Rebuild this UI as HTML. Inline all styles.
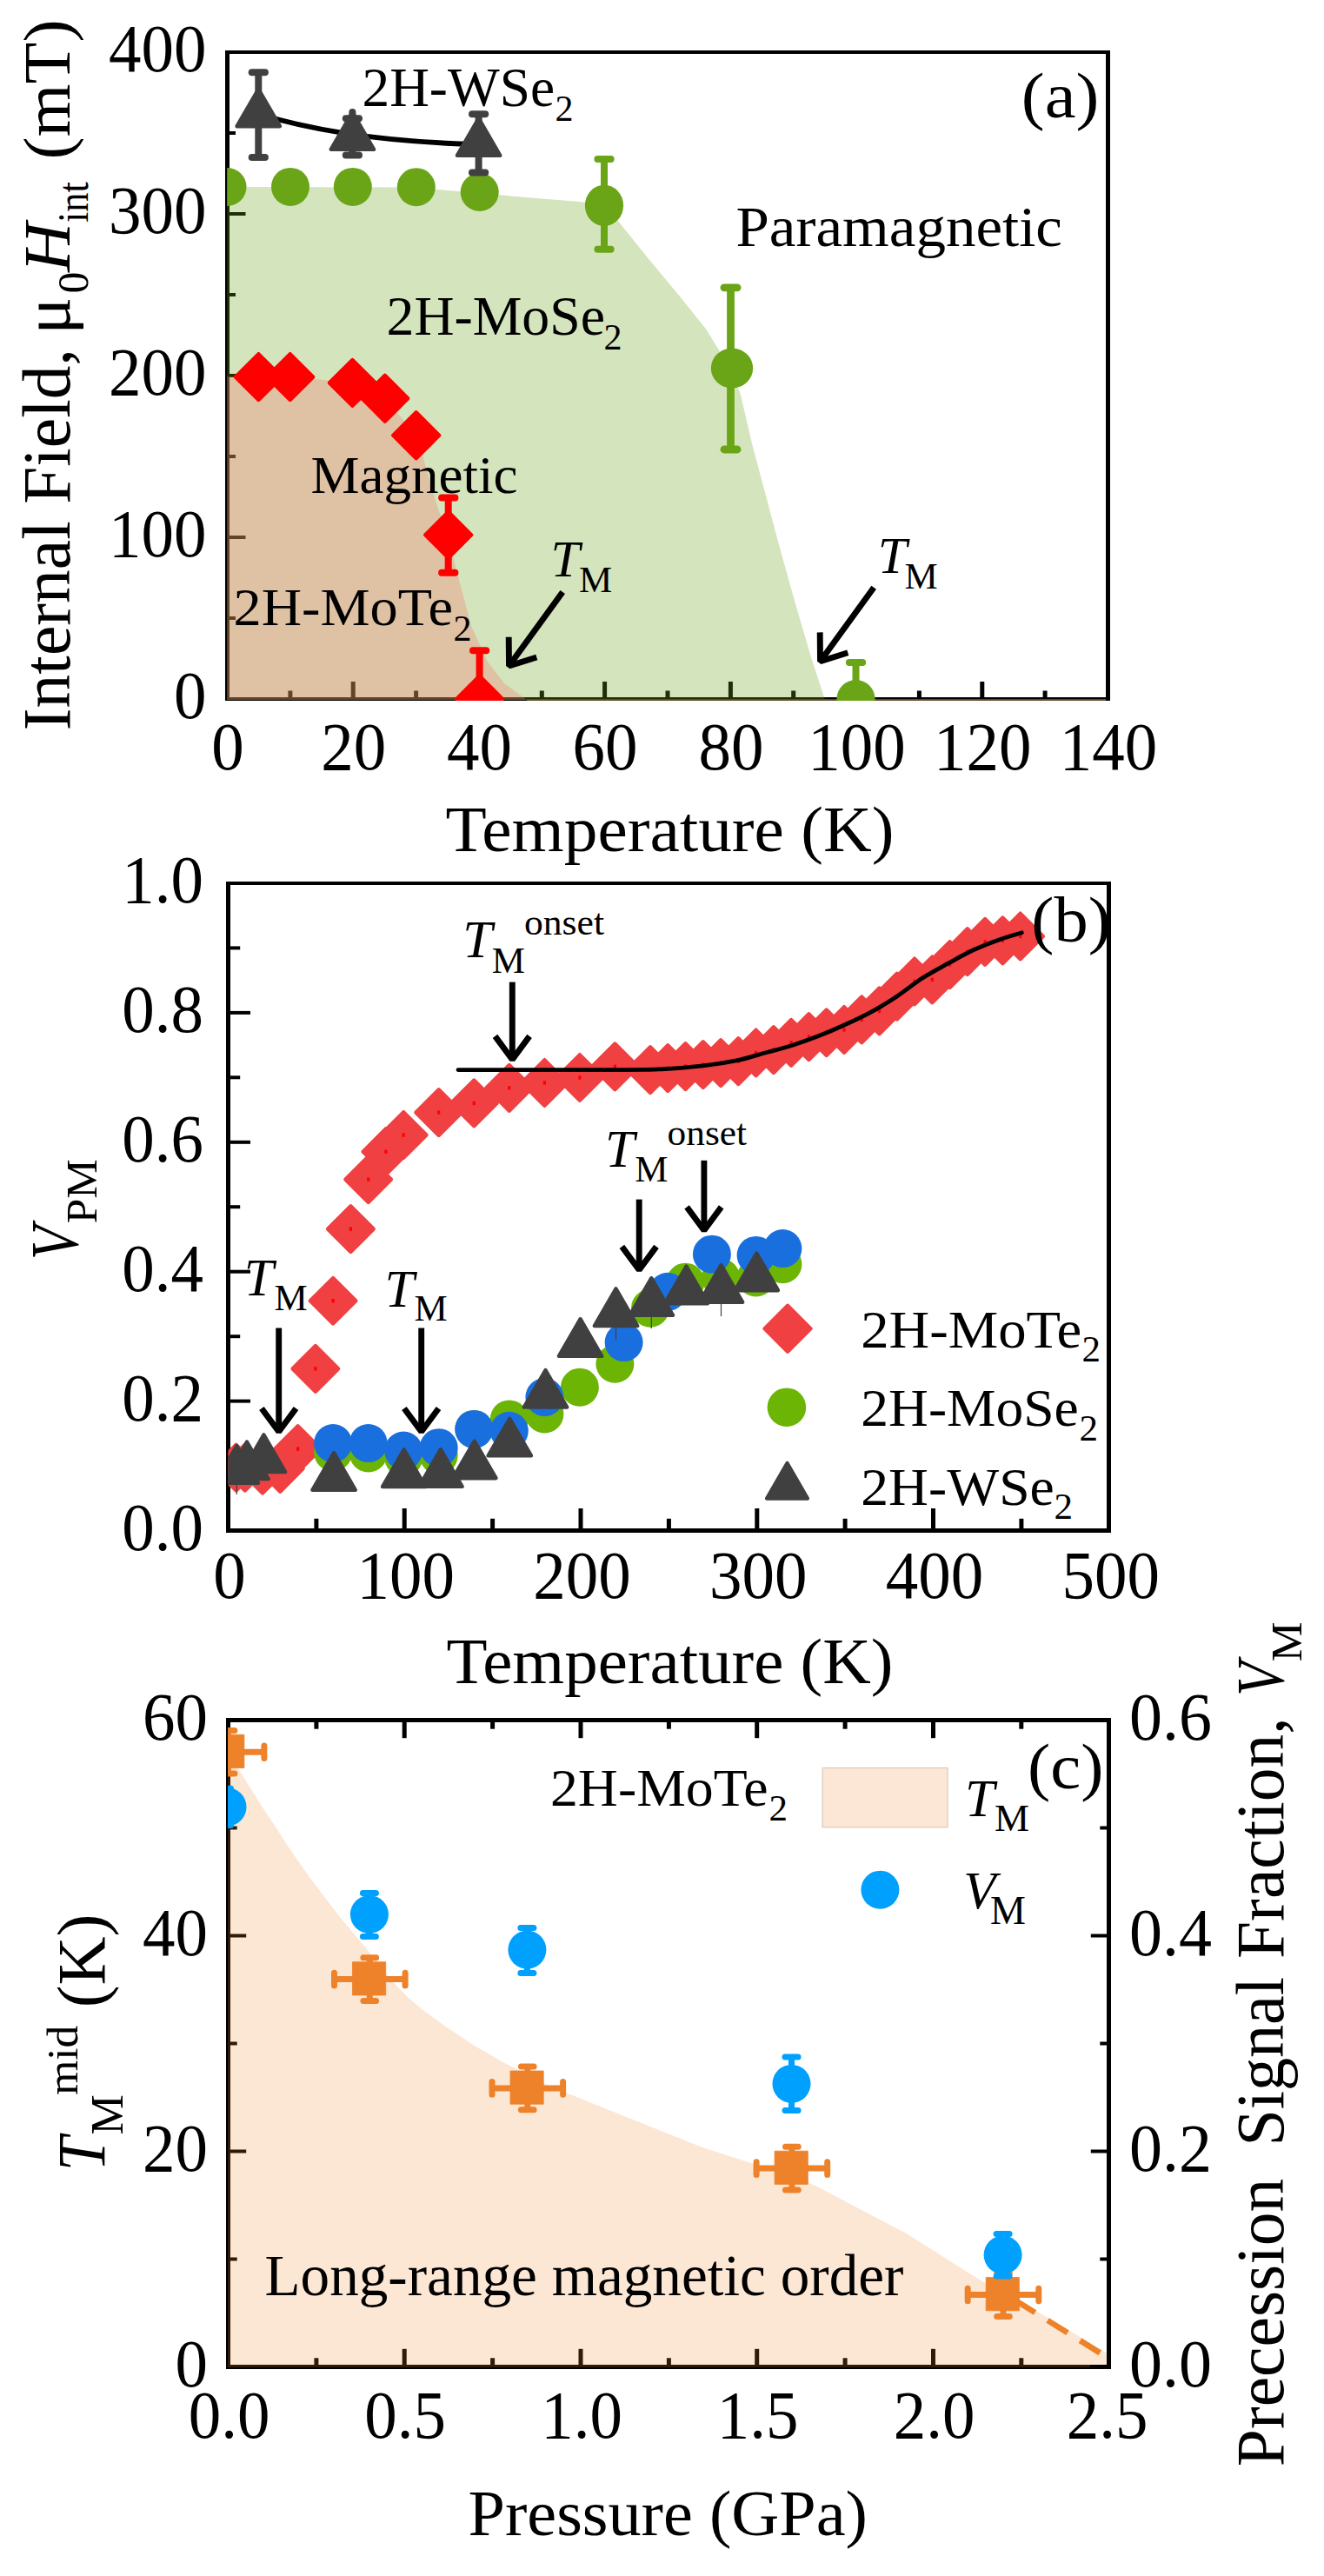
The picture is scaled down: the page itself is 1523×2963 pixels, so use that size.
<!DOCTYPE html>
<html><head><meta charset="utf-8"><title>Figure</title>
<style>
html,body{margin:0;padding:0;background:#fff;}
svg{display:block;}
text{font-family:'Liberation Serif','Times New Roman',serif;fill:#000;}
</style></head>
<body>
<svg width="1523" height="2963" viewBox="0 0 1523 2963">
<rect width="1523" height="2963" fill="#fff"/>
<g id="panel-a">
<line x1="261.5" y1="58.0" x2="261.5" y2="806.0" stroke="#000" stroke-width="5" stroke-linecap="butt" />
<line x1="1274.5" y1="58.0" x2="1274.5" y2="806.0" stroke="#000" stroke-width="5" stroke-linecap="butt" />
<line x1="259.0" y1="60.0" x2="1277.0" y2="60.0" stroke="#000" stroke-width="4" stroke-linecap="butt" />
<line x1="259.0" y1="804.0" x2="1277.0" y2="804.0" stroke="#000" stroke-width="4" stroke-linecap="butt" />
<line x1="333.9" y1="804.0" x2="333.9" y2="794.5" stroke="#000" stroke-width="5" stroke-linecap="butt" />
<line x1="406.2" y1="804.0" x2="406.2" y2="784.0" stroke="#000" stroke-width="5" stroke-linecap="butt" />
<line x1="478.6" y1="804.0" x2="478.6" y2="794.5" stroke="#000" stroke-width="5" stroke-linecap="butt" />
<line x1="550.9" y1="804.0" x2="550.9" y2="784.0" stroke="#000" stroke-width="5" stroke-linecap="butt" />
<line x1="623.3" y1="804.0" x2="623.3" y2="794.5" stroke="#000" stroke-width="5" stroke-linecap="butt" />
<line x1="695.6" y1="804.0" x2="695.6" y2="784.0" stroke="#000" stroke-width="5" stroke-linecap="butt" />
<line x1="768.0" y1="804.0" x2="768.0" y2="794.5" stroke="#000" stroke-width="5" stroke-linecap="butt" />
<line x1="840.4" y1="804.0" x2="840.4" y2="784.0" stroke="#000" stroke-width="5" stroke-linecap="butt" />
<line x1="912.7" y1="804.0" x2="912.7" y2="794.5" stroke="#000" stroke-width="5" stroke-linecap="butt" />
<line x1="985.1" y1="804.0" x2="985.1" y2="784.0" stroke="#000" stroke-width="5" stroke-linecap="butt" />
<line x1="1057.4" y1="804.0" x2="1057.4" y2="794.5" stroke="#000" stroke-width="5" stroke-linecap="butt" />
<line x1="1129.8" y1="804.0" x2="1129.8" y2="784.0" stroke="#000" stroke-width="5" stroke-linecap="butt" />
<line x1="1202.1" y1="804.0" x2="1202.1" y2="794.5" stroke="#000" stroke-width="5" stroke-linecap="butt" />
<line x1="261.5" y1="711.0" x2="271.0" y2="711.0" stroke="#000" stroke-width="4" stroke-linecap="butt" />
<line x1="261.5" y1="618.0" x2="282.5" y2="618.0" stroke="#000" stroke-width="4" stroke-linecap="butt" />
<line x1="261.5" y1="525.0" x2="271.0" y2="525.0" stroke="#000" stroke-width="4" stroke-linecap="butt" />
<line x1="261.5" y1="432.0" x2="282.5" y2="432.0" stroke="#000" stroke-width="4" stroke-linecap="butt" />
<line x1="261.5" y1="339.0" x2="271.0" y2="339.0" stroke="#000" stroke-width="4" stroke-linecap="butt" />
<line x1="261.5" y1="246.0" x2="282.5" y2="246.0" stroke="#000" stroke-width="4" stroke-linecap="butt" />
<line x1="261.5" y1="153.0" x2="271.0" y2="153.0" stroke="#000" stroke-width="4" stroke-linecap="butt" />
<clipPath id="clipA"><rect x="259.0" y="60.0" width="1015.5" height="746.0"/></clipPath>
<g clip-path="url(#clipA)">
<polygon points="261.2,215.0 478.0,215.5 502.7,218.0 551.5,222.0 593.3,225.9 668.8,232.3 695.0,236.0 714.1,258.0 744.4,295.7 782.1,341.1 812.3,378.8 833.1,412.8 841.5,424.0 852.0,454.4 865.2,511.0 880.3,567.6 895.4,624.3 914.3,692.3 933.2,756.5 949.0,805.0 261.2,805.0" fill="#6AA31A" fill-opacity="0.29" />
<polygon points="261.2,433.0 368.0,436.5 405.4,440.4 442.8,458.2 478.7,500.8 487.0,527.0 501.0,576.4 514.5,615.3 527.0,663.0 542.0,720.0 561.0,761.4 580.0,786.0 606.0,805.0 261.2,805.0" fill="#FA756A" fill-opacity="0.31" />
<rect x="606" y="804" width="666.0" height="2" fill="#6A4722"/>
</g>
<clipPath id="clipA2"><rect x="261.2" y="60.0" width="1015.5" height="746.0"/></clipPath>
<g clip-path="url(#clipA2)">
<path d="M297.3,131 Q400,162.5 550.6,166" stroke="#000" stroke-width="6" fill="none" />
<line x1="695.0" y1="183.0" x2="695.0" y2="286.8" stroke="#6AA518" stroke-width="8" stroke-linecap="butt" />
<line x1="687.4" y1="183.0" x2="702.6" y2="183.0" stroke="#6AA518" stroke-width="8" stroke-linecap="round" />
<line x1="687.4" y1="286.8" x2="702.6" y2="286.8" stroke="#6AA518" stroke-width="8" stroke-linecap="round" />
<line x1="840.5" y1="330.8" x2="840.5" y2="517.0" stroke="#6AA518" stroke-width="8.8" stroke-linecap="butt" />
<line x1="832.9" y1="330.8" x2="848.1" y2="330.8" stroke="#6AA518" stroke-width="8.8" stroke-linecap="round" />
<line x1="832.9" y1="517.0" x2="848.1" y2="517.0" stroke="#6AA518" stroke-width="8.8" stroke-linecap="round" />
<line x1="984.5" y1="762.0" x2="984.5" y2="804.0" stroke="#6AA518" stroke-width="8" stroke-linecap="butt" />
<line x1="976.9" y1="762.0" x2="992.1" y2="762.0" stroke="#6AA518" stroke-width="8" stroke-linecap="round" />
<line x1="976.9" y1="804.0" x2="992.1" y2="804.0" stroke="#6AA518" stroke-width="8" stroke-linecap="round" />
<circle cx="261.5" cy="215.0" r="22" fill="#6AA518"/>
<circle cx="334.0" cy="214.9" r="22" fill="#6AA518"/>
<circle cx="405.8" cy="214.9" r="22" fill="#6AA518"/>
<circle cx="478.8" cy="215.2" r="22" fill="#6AA518"/>
<circle cx="551.7" cy="221.0" r="22" fill="#6AA518"/>
<circle cx="984.5" cy="804.0" r="22" fill="#6AA518"/>
<ellipse cx="695" cy="236.4" rx="22.1" ry="23.6" fill="#6AA518"/>
<ellipse cx="842" cy="423.5" rx="24.2" ry="23" fill="#6AA518"/>
<line x1="515.7" y1="572.6" x2="515.7" y2="658.7" stroke="#FF0000" stroke-width="8" stroke-linecap="butt" />
<line x1="508.1" y1="572.6" x2="523.4" y2="572.6" stroke="#FF0000" stroke-width="8" stroke-linecap="round" />
<line x1="508.1" y1="658.7" x2="523.4" y2="658.7" stroke="#FF0000" stroke-width="8" stroke-linecap="round" />
<line x1="551.6" y1="748.2" x2="551.6" y2="804.0" stroke="#FF0000" stroke-width="8" stroke-linecap="butt" />
<line x1="544.0" y1="748.2" x2="559.2" y2="748.2" stroke="#FF0000" stroke-width="8" stroke-linecap="round" />
<line x1="544.0" y1="804.0" x2="559.2" y2="804.0" stroke="#FF0000" stroke-width="8" stroke-linecap="round" />
<polygon points="297.4,407.2 323.8,433.6 297.4,460.0 271.0,433.6" fill="#FF0000" stroke="#FF0000" stroke-width="4.4" stroke-linejoin="round"/>
<polygon points="333.7,407.2 360.1,433.6 333.7,460.0 307.3,433.6" fill="#FF0000" stroke="#FF0000" stroke-width="4.4" stroke-linejoin="round"/>
<polygon points="405.4,414.0 431.8,440.4 405.4,466.8 379.0,440.4" fill="#FF0000" stroke="#FF0000" stroke-width="4.4" stroke-linejoin="round"/>
<polygon points="442.8,431.8 469.2,458.2 442.8,484.6 416.4,458.2" fill="#FF0000" stroke="#FF0000" stroke-width="4.4" stroke-linejoin="round"/>
<polygon points="478.7,474.4 505.1,500.8 478.7,527.2 452.3,500.8" fill="#FF0000" stroke="#FF0000" stroke-width="4.4" stroke-linejoin="round"/>
<polygon points="515.7,588.9 542.1,615.3 515.7,641.7 489.3,615.3" fill="#FF0000" stroke="#FF0000" stroke-width="4.4" stroke-linejoin="round"/>
<polygon points="551.6,777.6 578.0,804.0 551.6,830.4 525.2,804.0" fill="#FF0000" stroke="#FF0000" stroke-width="4.4" stroke-linejoin="round"/>
<line x1="297.3" y1="83.2" x2="297.3" y2="181.0" stroke="#404040" stroke-width="8" stroke-linecap="butt" />
<line x1="289.7" y1="83.2" x2="304.9" y2="83.2" stroke="#404040" stroke-width="8" stroke-linecap="round" />
<line x1="289.7" y1="181.0" x2="304.9" y2="181.0" stroke="#404040" stroke-width="8" stroke-linecap="round" />
<line x1="405.4" y1="136.2" x2="405.4" y2="178.5" stroke="#404040" stroke-width="8" stroke-linecap="butt" />
<line x1="397.8" y1="136.2" x2="413.0" y2="136.2" stroke="#404040" stroke-width="8" stroke-linecap="round" />
<line x1="397.8" y1="178.5" x2="413.0" y2="178.5" stroke="#404040" stroke-width="8" stroke-linecap="round" />
<line x1="550.6" y1="131.2" x2="550.6" y2="198.4" stroke="#404040" stroke-width="8" stroke-linecap="butt" />
<line x1="543.0" y1="131.2" x2="558.2" y2="131.2" stroke="#404040" stroke-width="8" stroke-linecap="round" />
<line x1="543.0" y1="198.4" x2="558.2" y2="198.4" stroke="#404040" stroke-width="8" stroke-linecap="round" />
<line x1="405.4" y1="129.0" x2="405.4" y2="140.0" stroke="#404040" stroke-width="8" stroke-linecap="round" />
<polygon points="297.3,102.6 322.0,145.2 272.6,145.2" fill="#404040" stroke="#404040" stroke-width="4.4" stroke-linejoin="round"/>
<polygon points="405.4,129.2 430.1,171.8 380.7,171.8" fill="#404040" stroke="#404040" stroke-width="4.4" stroke-linejoin="round"/>
<polygon points="550.6,136.2 575.3,178.8 525.9,178.8" fill="#404040" stroke="#404040" stroke-width="4.4" stroke-linejoin="round"/>
</g>
<path d="M647.2,681.0 L585.5,766.0" stroke="#000" stroke-width="6.9" fill="none"/>
<path d="M617.3,756.0 L585.5,766.0 L585.2,732.7" stroke="#000" stroke-width="6.9" fill="none" stroke-linejoin="bevel"/>
<path d="M1005.2,675.7 L943.5,760.7" stroke="#000" stroke-width="6.9" fill="none"/>
<path d="M975.3,750.7 L943.5,760.7 L943.2,727.4" stroke="#000" stroke-width="6.9" fill="none" stroke-linejoin="bevel"/>
<text transform="translate(237.5,825.8) scale(1,1.035)" font-size="75" text-anchor="end">0</text>
<text transform="translate(237.5,639.8) scale(1,1.035)" font-size="75" text-anchor="end">100</text>
<text transform="translate(237.5,453.8) scale(1,1.035)" font-size="75" text-anchor="end">200</text>
<text transform="translate(237.5,267.8) scale(1,1.035)" font-size="75" text-anchor="end">300</text>
<text transform="translate(237.5,81.8) scale(1,1.035)" font-size="75" text-anchor="end">400</text>
<text transform="translate(262.0,885.4) scale(1,1.035)" font-size="75" text-anchor="middle">0</text>
<text transform="translate(406.7,885.4) scale(1,1.035)" font-size="75" text-anchor="middle">20</text>
<text transform="translate(551.4,885.4) scale(1,1.035)" font-size="75" text-anchor="middle">40</text>
<text transform="translate(696.1,885.4) scale(1,1.035)" font-size="75" text-anchor="middle">60</text>
<text transform="translate(840.9,885.4) scale(1,1.035)" font-size="75" text-anchor="middle">80</text>
<text transform="translate(985.6,885.4) scale(1,1.035)" font-size="75" text-anchor="middle">100</text>
<text transform="translate(1130.3,885.4) scale(1,1.035)" font-size="75" text-anchor="middle">120</text>
<text transform="translate(1275.0,885.4) scale(1,1.035)" font-size="75" text-anchor="middle">140</text>
<text x="512.5" y="978.7" font-size="75" textLength="516.0" lengthAdjust="spacingAndGlyphs">Temperature (K)</text>
<text transform="translate(80.4,840.2) rotate(-90)" font-size="77.5">Internal Field,</text>
<text transform="translate(80.4,384.7) rotate(-90)" font-size="77" textLength="43.0" lengthAdjust="spacingAndGlyphs">μ</text>
<text transform="translate(101.0,337.6) rotate(-90)" font-size="50">0</text>
<text transform="translate(80.4,313.0) rotate(-90)" font-size="77" font-style="italic" textLength="57.0" lengthAdjust="spacingAndGlyphs">H</text>
<text transform="translate(101.0,256.0) rotate(-90)" font-size="50" textLength="47.0" lengthAdjust="spacingAndGlyphs">int</text>
<text transform="translate(80.4,183.5) rotate(-90)" font-size="77" textLength="161.0" lengthAdjust="spacingAndGlyphs">(mT)</text>
<text x="416.5" y="122.3" font-size="62.5" textLength="221.5" lengthAdjust="spacingAndGlyphs">2H-WSe</text>
<text x="638.5" y="139.3" font-size="42">2</text>
<text x="1174.8" y="134.7" font-size="75" textLength="89.5" lengthAdjust="spacingAndGlyphs">(a)</text>
<text x="846.5" y="282.6" font-size="65" textLength="375.5" lengthAdjust="spacingAndGlyphs">Paramagnetic</text>
<text x="444.5" y="385.3" font-size="64" textLength="251.5" lengthAdjust="spacingAndGlyphs">2H-MoSe</text>
<text x="694.5" y="402.0" font-size="42">2</text>
<text x="357.5" y="567.4" font-size="62" textLength="238.0" lengthAdjust="spacingAndGlyphs">Magnetic</text>
<text x="268.5" y="718.9" font-size="62" textLength="252.5" lengthAdjust="spacingAndGlyphs">2H-MoTe</text>
<text x="521.5" y="737.1" font-size="42">2</text>
<text x="633.5" y="663.2" font-size="60" font-style="italic">T</text>
<text x="666.0" y="681.4" font-size="43">M</text>
<text x="1009.8" y="658.6" font-size="60" font-style="italic">T</text>
<text x="1040.5" y="676.8" font-size="43">M</text>
</g>
<g id="panel-b">
<line x1="262.5" y1="1014.0" x2="262.5" y2="1763.0" stroke="#000" stroke-width="5" stroke-linecap="butt" />
<line x1="1275.5" y1="1014.0" x2="1275.5" y2="1763.0" stroke="#000" stroke-width="5" stroke-linecap="butt" />
<line x1="260.0" y1="1016.0" x2="1278.0" y2="1016.0" stroke="#000" stroke-width="4" stroke-linecap="butt" />
<line x1="260.0" y1="1760.5" x2="1278.0" y2="1760.5" stroke="#000" stroke-width="5" stroke-linecap="butt" />
<line x1="363.9" y1="1760.5" x2="363.9" y2="1746.8" stroke="#000" stroke-width="5" stroke-linecap="butt" />
<line x1="465.2" y1="1760.5" x2="465.2" y2="1735.0" stroke="#000" stroke-width="5" stroke-linecap="butt" />
<line x1="566.6" y1="1760.5" x2="566.6" y2="1746.8" stroke="#000" stroke-width="5" stroke-linecap="butt" />
<line x1="668.0" y1="1760.5" x2="668.0" y2="1735.0" stroke="#000" stroke-width="5" stroke-linecap="butt" />
<line x1="769.4" y1="1760.5" x2="769.4" y2="1746.8" stroke="#000" stroke-width="5" stroke-linecap="butt" />
<line x1="870.8" y1="1760.5" x2="870.8" y2="1735.0" stroke="#000" stroke-width="5" stroke-linecap="butt" />
<line x1="972.1" y1="1760.5" x2="972.1" y2="1746.8" stroke="#000" stroke-width="5" stroke-linecap="butt" />
<line x1="1073.5" y1="1760.5" x2="1073.5" y2="1735.0" stroke="#000" stroke-width="5" stroke-linecap="butt" />
<line x1="1174.9" y1="1760.5" x2="1174.9" y2="1746.8" stroke="#000" stroke-width="5" stroke-linecap="butt" />
<line x1="262.5" y1="1686.0" x2="276.2" y2="1686.0" stroke="#000" stroke-width="4" stroke-linecap="butt" />
<line x1="262.5" y1="1611.6" x2="288.0" y2="1611.6" stroke="#000" stroke-width="4" stroke-linecap="butt" />
<line x1="262.5" y1="1537.2" x2="276.2" y2="1537.2" stroke="#000" stroke-width="4" stroke-linecap="butt" />
<line x1="262.5" y1="1462.7" x2="288.0" y2="1462.7" stroke="#000" stroke-width="4" stroke-linecap="butt" />
<line x1="262.5" y1="1388.2" x2="276.2" y2="1388.2" stroke="#000" stroke-width="4" stroke-linecap="butt" />
<line x1="262.5" y1="1313.8" x2="288.0" y2="1313.8" stroke="#000" stroke-width="4" stroke-linecap="butt" />
<line x1="262.5" y1="1239.3" x2="276.2" y2="1239.3" stroke="#000" stroke-width="4" stroke-linecap="butt" />
<line x1="262.5" y1="1164.9" x2="288.0" y2="1164.9" stroke="#000" stroke-width="4" stroke-linecap="butt" />
<line x1="262.5" y1="1090.4" x2="276.2" y2="1090.4" stroke="#000" stroke-width="4" stroke-linecap="butt" />
<clipPath id="clipB"><rect x="262.5" y="1016.0" width="1053.0" height="744.5"/></clipPath>
<g clip-path="url(#clipB)">
<polygon points="271.6,1661.9 297.9,1688.2 271.6,1714.5 245.3,1688.2" fill="#F04042" stroke="#F04042" stroke-width="4.4" stroke-linejoin="round"/>
<polygon points="281.8,1661.9 308.1,1688.2 281.8,1714.5 255.5,1688.2" fill="#F04042" stroke="#F04042" stroke-width="4.4" stroke-linejoin="round"/>
<polygon points="302.0,1664.9 328.3,1691.2 302.0,1717.5 275.8,1691.2" fill="#F04042" stroke="#F04042" stroke-width="4.4" stroke-linejoin="round"/>
<polygon points="322.3,1663.0 348.6,1689.3 322.3,1715.6 296.0,1689.3" fill="#F04042" stroke="#F04042" stroke-width="4.4" stroke-linejoin="round"/>
<polygon points="342.6,1640.4 368.9,1666.6 342.6,1692.9 316.3,1666.6" fill="#F04042" stroke="#F04042" stroke-width="4.4" stroke-linejoin="round"/>
<polygon points="362.9,1548.1 389.1,1574.4 362.9,1600.7 336.6,1574.4" fill="#F04042" stroke="#F04042" stroke-width="4.4" stroke-linejoin="round"/>
<polygon points="383.1,1470.0 409.4,1496.2 383.1,1522.5 356.8,1496.2" fill="#F04042" stroke="#F04042" stroke-width="4.4" stroke-linejoin="round"/>
<polygon points="403.4,1387.4 429.7,1413.6 403.4,1439.9 377.1,1413.6" fill="#F04042" stroke="#F04042" stroke-width="4.4" stroke-linejoin="round"/>
<polygon points="423.7,1330.3 449.9,1356.6 423.7,1382.9 397.4,1356.6" fill="#F04042" stroke="#F04042" stroke-width="4.4" stroke-linejoin="round"/>
<polygon points="443.9,1298.4 470.2,1324.7 443.9,1351.0 417.6,1324.7" fill="#F04042" stroke="#F04042" stroke-width="4.4" stroke-linejoin="round"/>
<polygon points="464.2,1279.2 490.5,1305.5 464.2,1331.8 437.9,1305.5" fill="#F04042" stroke="#F04042" stroke-width="4.4" stroke-linejoin="round"/>
<polygon points="504.7,1253.3 531.0,1279.6 504.7,1305.9 478.5,1279.6" fill="#F04042" stroke="#F04042" stroke-width="4.4" stroke-linejoin="round"/>
<polygon points="545.3,1242.6 571.6,1268.9 545.3,1295.2 519.0,1268.9" fill="#F04042" stroke="#F04042" stroke-width="4.4" stroke-linejoin="round"/>
<polygon points="585.8,1225.0 612.1,1251.3 585.8,1277.6 559.5,1251.3" fill="#F04042" stroke="#F04042" stroke-width="4.4" stroke-linejoin="round"/>
<polygon points="626.4,1219.2 652.6,1245.5 626.4,1271.8 600.1,1245.5" fill="#F04042" stroke="#F04042" stroke-width="4.4" stroke-linejoin="round"/>
<polygon points="666.9,1213.2 693.2,1239.5 666.9,1265.8 640.6,1239.5" fill="#F04042" stroke="#F04042" stroke-width="4.4" stroke-linejoin="round"/>
<polygon points="707.4,1200.6 733.7,1226.9 707.4,1253.2 681.2,1226.9" fill="#F04042" stroke="#F04042" stroke-width="4.4" stroke-linejoin="round"/>
<polygon points="748.0,1204.3 774.3,1230.6 748.0,1256.9 721.7,1230.6" fill="#F04042" stroke="#F04042" stroke-width="4.4" stroke-linejoin="round"/>
<polygon points="768.2,1202.3 794.5,1228.6 768.2,1254.9 742.0,1228.6" fill="#F04042" stroke="#F04042" stroke-width="4.4" stroke-linejoin="round"/>
<polygon points="788.5,1200.3 814.8,1226.6 788.5,1252.9 762.2,1226.6" fill="#F04042" stroke="#F04042" stroke-width="4.4" stroke-linejoin="round"/>
<polygon points="808.8,1198.4 835.1,1224.6 808.8,1250.9 782.5,1224.6" fill="#F04042" stroke="#F04042" stroke-width="4.4" stroke-linejoin="round"/>
<polygon points="829.1,1196.4 855.3,1222.6 829.1,1248.9 802.8,1222.6" fill="#F04042" stroke="#F04042" stroke-width="4.4" stroke-linejoin="round"/>
<polygon points="849.3,1194.4 875.6,1220.7 849.3,1247.0 823.0,1220.7" fill="#F04042" stroke="#F04042" stroke-width="4.4" stroke-linejoin="round"/>
<polygon points="869.6,1184.7 895.9,1211.0 869.6,1237.2 843.3,1211.0" fill="#F04042" stroke="#F04042" stroke-width="4.4" stroke-linejoin="round"/>
<polygon points="889.9,1181.4 916.2,1207.7 889.9,1234.0 863.6,1207.7" fill="#F04042" stroke="#F04042" stroke-width="4.4" stroke-linejoin="round"/>
<polygon points="910.1,1173.1 936.4,1199.3 910.1,1225.6 883.9,1199.3" fill="#F04042" stroke="#F04042" stroke-width="4.4" stroke-linejoin="round"/>
<polygon points="930.4,1166.4 956.7,1192.7 930.4,1218.9 904.1,1192.7" fill="#F04042" stroke="#F04042" stroke-width="4.4" stroke-linejoin="round"/>
<polygon points="950.7,1161.5 977.0,1187.7 950.7,1214.0 924.4,1187.7" fill="#F04042" stroke="#F04042" stroke-width="4.4" stroke-linejoin="round"/>
<polygon points="971.0,1158.2 997.2,1184.5 971.0,1210.8 944.7,1184.5" fill="#F04042" stroke="#F04042" stroke-width="4.4" stroke-linejoin="round"/>
<polygon points="991.2,1146.5 1017.5,1172.8 991.2,1199.1 964.9,1172.8" fill="#F04042" stroke="#F04042" stroke-width="4.4" stroke-linejoin="round"/>
<polygon points="1011.5,1136.6 1037.8,1162.9 1011.5,1189.2 985.2,1162.9" fill="#F04042" stroke="#F04042" stroke-width="4.4" stroke-linejoin="round"/>
<polygon points="1031.8,1119.9 1058.0,1146.2 1031.8,1172.5 1005.5,1146.2" fill="#F04042" stroke="#F04042" stroke-width="4.4" stroke-linejoin="round"/>
<polygon points="1052.0,1102.7 1078.3,1129.0 1052.0,1155.2 1025.7,1129.0" fill="#F04042" stroke="#F04042" stroke-width="4.4" stroke-linejoin="round"/>
<polygon points="1072.3,1100.7 1098.6,1126.9 1072.3,1153.2 1046.0,1126.9" fill="#F04042" stroke="#F04042" stroke-width="4.4" stroke-linejoin="round"/>
<polygon points="1092.6,1083.3 1118.9,1109.6 1092.6,1135.9 1066.3,1109.6" fill="#F04042" stroke="#F04042" stroke-width="4.4" stroke-linejoin="round"/>
<polygon points="1112.8,1068.4 1139.1,1094.7 1112.8,1120.9 1086.6,1094.7" fill="#F04042" stroke="#F04042" stroke-width="4.4" stroke-linejoin="round"/>
<polygon points="1133.1,1057.0 1159.4,1083.3 1133.1,1109.6 1106.8,1083.3" fill="#F04042" stroke="#F04042" stroke-width="4.4" stroke-linejoin="round"/>
<polygon points="1153.4,1055.5 1179.7,1081.8 1153.4,1108.1 1127.1,1081.8" fill="#F04042" stroke="#F04042" stroke-width="4.4" stroke-linejoin="round"/>
<polygon points="1173.7,1050.7 1199.9,1077.0 1173.7,1103.3 1147.4,1077.0" fill="#F04042" stroke="#F04042" stroke-width="4.4" stroke-linejoin="round"/>
<rect x="270.0" y="1686.0" width="3.2" height="4.4" fill="#FF0000"/>
<rect x="280.2" y="1686.0" width="3.2" height="4.4" fill="#FF0000"/>
<rect x="300.4" y="1689.0" width="3.2" height="4.4" fill="#FF0000"/>
<rect x="320.7" y="1687.1" width="3.2" height="4.4" fill="#FF0000"/>
<rect x="341.0" y="1664.4" width="3.2" height="4.4" fill="#FF0000"/>
<rect x="361.2" y="1572.2" width="3.2" height="4.4" fill="#FF0000"/>
<rect x="381.5" y="1494.0" width="3.2" height="4.4" fill="#FF0000"/>
<rect x="401.8" y="1411.4" width="3.2" height="4.4" fill="#FF0000"/>
<rect x="422.1" y="1354.4" width="3.2" height="4.4" fill="#FF0000"/>
<rect x="442.3" y="1322.5" width="3.2" height="4.4" fill="#FF0000"/>
<rect x="462.6" y="1303.3" width="3.2" height="4.4" fill="#FF0000"/>
<rect x="503.1" y="1277.4" width="3.2" height="4.4" fill="#FF0000"/>
<rect x="543.7" y="1266.7" width="3.2" height="4.4" fill="#FF0000"/>
<rect x="584.2" y="1249.1" width="3.2" height="4.4" fill="#FF0000"/>
<rect x="624.8" y="1243.3" width="3.2" height="4.4" fill="#FF0000"/>
<rect x="665.3" y="1237.3" width="3.2" height="4.4" fill="#FF0000"/>
<rect x="705.8" y="1224.7" width="3.2" height="4.4" fill="#FF0000"/>
<rect x="746.4" y="1228.4" width="3.2" height="4.4" fill="#FF0000"/>
<rect x="766.6" y="1226.4" width="3.2" height="4.4" fill="#FF0000"/>
<rect x="786.9" y="1224.4" width="3.2" height="4.4" fill="#FF0000"/>
<rect x="807.2" y="1222.4" width="3.2" height="4.4" fill="#FF0000"/>
<rect x="827.5" y="1220.4" width="3.2" height="4.4" fill="#FF0000"/>
<rect x="847.7" y="1218.5" width="3.2" height="4.4" fill="#FF0000"/>
<rect x="868.0" y="1208.8" width="3.2" height="4.4" fill="#FF0000"/>
<rect x="888.3" y="1205.5" width="3.2" height="4.4" fill="#FF0000"/>
<rect x="908.5" y="1197.1" width="3.2" height="4.4" fill="#FF0000"/>
<rect x="928.8" y="1190.5" width="3.2" height="4.4" fill="#FF0000"/>
<rect x="949.1" y="1185.5" width="3.2" height="4.4" fill="#FF0000"/>
<rect x="969.4" y="1182.3" width="3.2" height="4.4" fill="#FF0000"/>
<rect x="989.6" y="1170.6" width="3.2" height="4.4" fill="#FF0000"/>
<rect x="1009.9" y="1160.7" width="3.2" height="4.4" fill="#FF0000"/>
<rect x="1030.2" y="1144.0" width="3.2" height="4.4" fill="#FF0000"/>
<rect x="1050.4" y="1126.8" width="3.2" height="4.4" fill="#FF0000"/>
<rect x="1070.7" y="1124.7" width="3.2" height="4.4" fill="#FF0000"/>
<rect x="1091.0" y="1107.4" width="3.2" height="4.4" fill="#FF0000"/>
<rect x="1111.2" y="1092.5" width="3.2" height="4.4" fill="#FF0000"/>
<rect x="1131.5" y="1081.1" width="3.2" height="4.4" fill="#FF0000"/>
<rect x="1151.8" y="1079.6" width="3.2" height="4.4" fill="#FF0000"/>
<rect x="1172.1" y="1074.8" width="3.2" height="4.4" fill="#FF0000"/>
<path d="M527.0,1230.6 C540.2,1230.6 579.4,1230.6 606.1,1230.6 C632.8,1230.6 661.8,1230.7 687.2,1230.6 C712.5,1230.5 737.8,1230.7 758.1,1229.9 C778.4,1229.1 793.5,1227.5 808.8,1225.8 C824.1,1224.0 838.0,1221.7 849.9,1219.3 C861.8,1216.8 870.1,1213.8 880.1,1211.0 C890.2,1208.3 900.3,1205.8 910.3,1202.7 C920.4,1199.5 930.5,1196.0 940.5,1192.1 C950.6,1188.2 960.7,1183.9 970.7,1179.3 C980.7,1174.8 990.5,1170.3 1000.5,1164.9 C1010.5,1159.5 1020.8,1153.3 1030.7,1146.7 C1040.7,1140.2 1050.4,1132.0 1060.3,1125.5 C1070.3,1119.1 1080.5,1113.7 1090.5,1108.2 C1100.6,1102.7 1110.6,1096.9 1120.7,1092.3 C1130.8,1087.6 1142.1,1083.5 1151.2,1080.2 C1160.2,1077.0 1171.3,1074.0 1175.3,1072.7" stroke="#000" stroke-width="4.8" fill="none" stroke-linecap="round"/>
<circle cx="383.1" cy="1670.5" r="22" fill="#6CB504"/>
<circle cx="423.7" cy="1671.4" r="22" fill="#6CB504"/>
<circle cx="464.2" cy="1676.3" r="22" fill="#6CB504"/>
<circle cx="504.7" cy="1674.1" r="22" fill="#6CB504"/>
<circle cx="545.3" cy="1643.9" r="22" fill="#6CB504"/>
<circle cx="585.8" cy="1632.4" r="22" fill="#6CB504"/>
<circle cx="626.4" cy="1626.5" r="22" fill="#6CB504"/>
<circle cx="666.9" cy="1595.7" r="22" fill="#6CB504"/>
<circle cx="707.4" cy="1568.7" r="22" fill="#6CB504"/>
<circle cx="748.0" cy="1504.7" r="22" fill="#6CB504"/>
<circle cx="788.5" cy="1474.7" r="22" fill="#6CB504"/>
<circle cx="829.1" cy="1469.5" r="22" fill="#6CB504"/>
<circle cx="869.6" cy="1469.5" r="22" fill="#6CB504"/>
<circle cx="900.4" cy="1454.2" r="22" fill="#6CB504"/>
<circle cx="383.1" cy="1660.1" r="22" fill="#1A6FDF"/>
<circle cx="423.7" cy="1660.1" r="22" fill="#1A6FDF"/>
<circle cx="464.2" cy="1668.6" r="22" fill="#1A6FDF"/>
<circle cx="504.7" cy="1665.2" r="22" fill="#1A6FDF"/>
<circle cx="545.3" cy="1643.9" r="22" fill="#1A6FDF"/>
<circle cx="585.8" cy="1645.8" r="22" fill="#1A6FDF"/>
<circle cx="626.4" cy="1607.1" r="22" fill="#1A6FDF"/>
<circle cx="717.6" cy="1544.1" r="22" fill="#1A6FDF"/>
<circle cx="768.2" cy="1485.8" r="22" fill="#1A6FDF"/>
<circle cx="818.9" cy="1442.7" r="22" fill="#1A6FDF"/>
<circle cx="869.6" cy="1443.9" r="22" fill="#1A6FDF"/>
<circle cx="900.4" cy="1436.1" r="22" fill="#1A6FDF"/>
<polygon points="272.3,1663.2 297.0,1705.8 247.6,1705.8" fill="#404040" stroke="#404040" stroke-width="4.4" stroke-linejoin="round"/>
<polygon points="284.0,1658.5 308.7,1701.1 259.3,1701.1" fill="#404040" stroke="#404040" stroke-width="4.4" stroke-linejoin="round"/>
<polygon points="303.4,1650.4 328.1,1693.0 278.7,1693.0" fill="#404040" stroke="#404040" stroke-width="4.4" stroke-linejoin="round"/>
<polygon points="384.1,1671.2 408.8,1713.8 359.4,1713.8" fill="#404040" stroke="#404040" stroke-width="4.4" stroke-linejoin="round"/>
<polygon points="464.7,1667.4 489.4,1710.0 440.0,1710.0" fill="#404040" stroke="#404040" stroke-width="4.4" stroke-linejoin="round"/>
<polygon points="506.9,1667.2 531.6,1709.8 482.2,1709.8" fill="#404040" stroke="#404040" stroke-width="4.4" stroke-linejoin="round"/>
<polygon points="545.8,1657.6 570.5,1700.2 521.1,1700.2" fill="#404040" stroke="#404040" stroke-width="4.4" stroke-linejoin="round"/>
<polygon points="586.3,1631.8 611.0,1674.4 561.6,1674.4" fill="#404040" stroke="#404040" stroke-width="4.4" stroke-linejoin="round"/>
<polygon points="627.5,1576.0 652.2,1618.6 602.8,1618.6" fill="#404040" stroke="#404040" stroke-width="4.4" stroke-linejoin="round"/>
<polygon points="667.6,1517.2 692.3,1559.8 642.9,1559.8" fill="#404040" stroke="#404040" stroke-width="4.4" stroke-linejoin="round"/>
<polygon points="708.5,1482.4 733.2,1525.0 683.8,1525.0" fill="#404040" stroke="#404040" stroke-width="4.4" stroke-linejoin="round"/>
<polygon points="749.3,1470.2 774.0,1512.8 724.6,1512.8" fill="#404040" stroke="#404040" stroke-width="4.4" stroke-linejoin="round"/>
<polygon points="789.5,1456.6 814.2,1499.2 764.8,1499.2" fill="#404040" stroke="#404040" stroke-width="4.4" stroke-linejoin="round"/>
<polygon points="829.5,1455.2 854.2,1497.8 804.8,1497.8" fill="#404040" stroke="#404040" stroke-width="4.4" stroke-linejoin="round"/>
<polygon points="870.3,1441.6 895.0,1484.2 845.6,1484.2" fill="#404040" stroke="#404040" stroke-width="4.4" stroke-linejoin="round"/>
<line x1="272.3" y1="1700.0" x2="272.3" y2="1719.0" stroke="#404040" stroke-width="1.2" stroke-linecap="butt" />
<line x1="708.5" y1="1520.0" x2="708.5" y2="1541.0" stroke="#404040" stroke-width="1.2" stroke-linecap="butt" />
<line x1="749.3" y1="1508.0" x2="749.3" y2="1528.0" stroke="#404040" stroke-width="1.2" stroke-linecap="butt" />
<line x1="829.5" y1="1496.0" x2="829.5" y2="1514.0" stroke="#404040" stroke-width="1.2" stroke-linecap="butt" />
</g>
<path d="M320.7,1527.5 L320.7,1646.8" stroke="#000" stroke-width="6.9" fill="none"/>
<path d="M340.5,1620.0 L320.7,1646.8 L300.9,1620.0" stroke="#000" stroke-width="6.9" fill="none" stroke-linejoin="bevel"/>
<path d="M484.7,1527.5 L484.7,1646.8" stroke="#000" stroke-width="6.9" fill="none"/>
<path d="M504.5,1620.0 L484.7,1646.8 L464.9,1620.0" stroke="#000" stroke-width="6.9" fill="none" stroke-linejoin="bevel"/>
<path d="M735.2,1379.6 L735.2,1460.7" stroke="#000" stroke-width="6.9" fill="none"/>
<path d="M755.0,1433.9 L735.2,1460.7 L715.4,1433.9" stroke="#000" stroke-width="6.9" fill="none" stroke-linejoin="bevel"/>
<path d="M809.9,1334.8 L809.9,1415.2" stroke="#000" stroke-width="6.9" fill="none"/>
<path d="M829.7,1388.4 L809.9,1415.2 L790.1,1388.4" stroke="#000" stroke-width="6.9" fill="none" stroke-linejoin="bevel"/>
<path d="M589.3,1129.6 L589.3,1218.7" stroke="#000" stroke-width="6.9" fill="none"/>
<path d="M609.1,1191.9 L589.3,1218.7 L569.5,1191.9" stroke="#000" stroke-width="6.9" fill="none" stroke-linejoin="bevel"/>
<polygon points="906.0,1501.9 932.4,1528.3 906.0,1554.7 879.6,1528.3" fill="#F04042" stroke="#F04042" stroke-width="4.4" stroke-linejoin="round"/>
<circle cx="904.9" cy="1618.7" r="22.3" fill="#6CB504"/>
<polygon points="905.5,1683.0 928.9,1723.5 882.1,1723.5" fill="#404040" stroke="#404040" stroke-width="4.4" stroke-linejoin="round"/>
<text x="990.3" y="1549.6" font-size="62" textLength="254.0" lengthAdjust="spacingAndGlyphs">2H-MoTe</text>
<text x="1244.5" y="1566.0" font-size="43">2</text>
<text x="990.3" y="1640.0" font-size="62" textLength="250.5" lengthAdjust="spacingAndGlyphs">2H-MoSe</text>
<text x="1241.5" y="1656.5" font-size="43">2</text>
<text x="990.3" y="1730.7" font-size="62" textLength="222.5" lengthAdjust="spacingAndGlyphs">2H-WSe</text>
<text x="1212.5" y="1747.3" font-size="43">2</text>
<text x="280.7" y="1489.8" font-size="61" font-style="italic">T</text>
<text x="315.5" y="1507.0" font-size="43">M</text>
<text x="442.5" y="1502.5" font-size="61" font-style="italic">T</text>
<text x="476.5" y="1518.7" font-size="43">M</text>
<text x="532.3" y="1101.3" font-size="61" font-style="italic">T</text>
<text x="565.8" y="1119.0" font-size="43">M</text>
<text x="603.0" y="1074.6" font-size="43" textLength="92.0" lengthAdjust="spacingAndGlyphs">onset</text>
<text x="695.9" y="1342.4" font-size="61" font-style="italic">T</text>
<text x="730.3" y="1359.2" font-size="43">M</text>
<text x="767.6" y="1316.6" font-size="43" textLength="91.5" lengthAdjust="spacingAndGlyphs">onset</text>
<text x="1186.3" y="1083.1" font-size="75" textLength="91.5" lengthAdjust="spacingAndGlyphs">(b)</text>
<text transform="translate(264.0,1838.2) scale(1,1.035)" font-size="75" text-anchor="middle">0</text>
<text transform="translate(466.8,1838.2) scale(1,1.035)" font-size="75" text-anchor="middle">100</text>
<text transform="translate(669.5,1838.2) scale(1,1.035)" font-size="75" text-anchor="middle">200</text>
<text transform="translate(872.2,1838.2) scale(1,1.035)" font-size="75" text-anchor="middle">300</text>
<text transform="translate(1075.0,1838.2) scale(1,1.035)" font-size="75" text-anchor="middle">400</text>
<text transform="translate(1277.8,1838.2) scale(1,1.035)" font-size="75" text-anchor="middle">500</text>
<text transform="translate(234.0,1782.5) scale(1,1.035)" font-size="75" text-anchor="end">0.0</text>
<text transform="translate(234.0,1633.6) scale(1,1.035)" font-size="75" text-anchor="end">0.2</text>
<text transform="translate(234.0,1484.7) scale(1,1.035)" font-size="75" text-anchor="end">0.4</text>
<text transform="translate(234.0,1335.8) scale(1,1.035)" font-size="75" text-anchor="end">0.6</text>
<text transform="translate(234.0,1186.9) scale(1,1.035)" font-size="75" text-anchor="end">0.8</text>
<text transform="translate(234.0,1038.0) scale(1,1.035)" font-size="75" text-anchor="end">1.0</text>
<text x="513.5" y="1935.6" font-size="75" textLength="514.0" lengthAdjust="spacingAndGlyphs">Temperature (K)</text>
<text transform="translate(89.0,1449.2) rotate(-90)" font-size="78" font-style="italic" textLength="39.5" lengthAdjust="spacingAndGlyphs">V</text>
<text transform="translate(110.7,1407.3) rotate(-90)" font-size="51" textLength="74.0" lengthAdjust="spacingAndGlyphs">PM</text>
</g>
<g id="panel-c">
<line x1="262.5" y1="1976.0" x2="262.5" y2="2725.0" stroke="#000" stroke-width="5" stroke-linecap="butt" />
<line x1="1275.5" y1="1976.0" x2="1275.5" y2="2725.0" stroke="#000" stroke-width="5" stroke-linecap="butt" />
<line x1="260.0" y1="1978.5" x2="1278.0" y2="1978.5" stroke="#000" stroke-width="5" stroke-linecap="butt" />
<line x1="260.0" y1="2722.5" x2="1278.0" y2="2722.5" stroke="#000" stroke-width="5" stroke-linecap="butt" />
<line x1="363.9" y1="2722.5" x2="363.9" y2="2712.3" stroke="#000" stroke-width="5" stroke-linecap="butt" />
<line x1="363.9" y1="1978.5" x2="363.9" y2="1988.7" stroke="#000" stroke-width="5" stroke-linecap="butt" />
<line x1="465.2" y1="2722.5" x2="465.2" y2="2701.8" stroke="#000" stroke-width="5" stroke-linecap="butt" />
<line x1="465.2" y1="1978.5" x2="465.2" y2="1999.2" stroke="#000" stroke-width="5" stroke-linecap="butt" />
<line x1="566.6" y1="2722.5" x2="566.6" y2="2712.3" stroke="#000" stroke-width="5" stroke-linecap="butt" />
<line x1="566.6" y1="1978.5" x2="566.6" y2="1988.7" stroke="#000" stroke-width="5" stroke-linecap="butt" />
<line x1="668.0" y1="2722.5" x2="668.0" y2="2701.8" stroke="#000" stroke-width="5" stroke-linecap="butt" />
<line x1="668.0" y1="1978.5" x2="668.0" y2="1999.2" stroke="#000" stroke-width="5" stroke-linecap="butt" />
<line x1="769.4" y1="2722.5" x2="769.4" y2="2712.3" stroke="#000" stroke-width="5" stroke-linecap="butt" />
<line x1="769.4" y1="1978.5" x2="769.4" y2="1988.7" stroke="#000" stroke-width="5" stroke-linecap="butt" />
<line x1="870.7" y1="2722.5" x2="870.7" y2="2701.8" stroke="#000" stroke-width="5" stroke-linecap="butt" />
<line x1="870.7" y1="1978.5" x2="870.7" y2="1999.2" stroke="#000" stroke-width="5" stroke-linecap="butt" />
<line x1="972.1" y1="2722.5" x2="972.1" y2="2712.3" stroke="#000" stroke-width="5" stroke-linecap="butt" />
<line x1="972.1" y1="1978.5" x2="972.1" y2="1988.7" stroke="#000" stroke-width="5" stroke-linecap="butt" />
<line x1="1073.5" y1="2722.5" x2="1073.5" y2="2701.8" stroke="#000" stroke-width="5" stroke-linecap="butt" />
<line x1="1073.5" y1="1978.5" x2="1073.5" y2="1999.2" stroke="#000" stroke-width="5" stroke-linecap="butt" />
<line x1="1174.8" y1="2722.5" x2="1174.8" y2="2712.3" stroke="#000" stroke-width="5" stroke-linecap="butt" />
<line x1="1174.8" y1="1978.5" x2="1174.8" y2="1988.7" stroke="#000" stroke-width="5" stroke-linecap="butt" />
<line x1="262.5" y1="2598.5" x2="272.7" y2="2598.5" stroke="#000" stroke-width="4" stroke-linecap="butt" />
<line x1="1275.5" y1="2598.5" x2="1265.3" y2="2598.5" stroke="#000" stroke-width="4" stroke-linecap="butt" />
<line x1="262.5" y1="2474.5" x2="283.2" y2="2474.5" stroke="#000" stroke-width="4" stroke-linecap="butt" />
<line x1="1275.5" y1="2474.5" x2="1254.8" y2="2474.5" stroke="#000" stroke-width="4" stroke-linecap="butt" />
<line x1="262.5" y1="2350.5" x2="272.7" y2="2350.5" stroke="#000" stroke-width="4" stroke-linecap="butt" />
<line x1="1275.5" y1="2350.5" x2="1265.3" y2="2350.5" stroke="#000" stroke-width="4" stroke-linecap="butt" />
<line x1="262.5" y1="2226.5" x2="283.2" y2="2226.5" stroke="#000" stroke-width="4" stroke-linecap="butt" />
<line x1="1275.5" y1="2226.5" x2="1254.8" y2="2226.5" stroke="#000" stroke-width="4" stroke-linecap="butt" />
<line x1="262.5" y1="2102.5" x2="272.7" y2="2102.5" stroke="#000" stroke-width="4" stroke-linecap="butt" />
<line x1="1275.5" y1="2102.5" x2="1265.3" y2="2102.5" stroke="#000" stroke-width="4" stroke-linecap="butt" />
<polygon points="262.1,2012.0 262.5,2013.0 274.6,2034.9 285.2,2052.3 300.3,2076.5 315.4,2099.1 330.5,2122.5 345.6,2144.4 360.7,2165.6 375.8,2185.2 390.9,2204.9 406.1,2223.0 421.2,2241.1 444.5,2271.0 455.1,2283.1 470.2,2298.2 485.3,2311.0 500.4,2322.3 515.5,2332.9 530.6,2342.7 545.7,2353.3 560.8,2361.6 576.0,2370.7 591.1,2378.2 606.5,2386.0 627.3,2397.1 652.1,2407.5 730.3,2439.0 808.5,2470.3 910.5,2503.0 938.8,2514.6 1043.0,2569.3 1121.2,2618.8 1152.4,2637.5 1206.7,2666.5 1273.0,2706.5 1273.0,2720.0 1254.0,2720.0 1254.0,2723.0 262.1,2723.0" fill="#EE822A" fill-opacity="0.2" />
<clipPath id="clipC"><rect x="262.1" y="1978.5" width="1016.0" height="747.0"/></clipPath>
<g clip-path="url(#clipC)">
<line x1="1167.7" y1="2645.7" x2="1265.3" y2="2706.4" stroke="#EE822A" stroke-width="6.6" stroke-linecap="butt" stroke-dasharray="27 17"/>
<line x1="221.1" y1="2015.2" x2="303.9" y2="2015.2" stroke="#EE822A" stroke-width="7" stroke-linecap="butt" />
<line x1="221.1" y1="2007.9" x2="221.1" y2="2022.5" stroke="#EE822A" stroke-width="7" stroke-linecap="round" />
<line x1="303.9" y1="2007.9" x2="303.9" y2="2022.5" stroke="#EE822A" stroke-width="7" stroke-linecap="round" />
<line x1="262.5" y1="1990.4" x2="262.5" y2="2040.0" stroke="#EE822A" stroke-width="7" stroke-linecap="butt" />
<line x1="255.2" y1="1990.4" x2="269.9" y2="1990.4" stroke="#EE822A" stroke-width="7" stroke-linecap="round" />
<line x1="255.2" y1="2040.0" x2="269.9" y2="2040.0" stroke="#EE822A" stroke-width="7" stroke-linecap="round" />
<polygon points="242.7,1995.3 280.9,1995.3 280.9,2033.5 242.7,2033.5" fill="#EE822A" stroke="#EE822A" stroke-width="0.8" stroke-linejoin="round"/>
<line x1="384.5" y1="2276.6" x2="466.1" y2="2276.6" stroke="#EE822A" stroke-width="7" stroke-linecap="butt" />
<line x1="384.5" y1="2269.2" x2="384.5" y2="2283.9" stroke="#EE822A" stroke-width="7" stroke-linecap="round" />
<line x1="466.1" y1="2269.2" x2="466.1" y2="2283.9" stroke="#EE822A" stroke-width="7" stroke-linecap="round" />
<line x1="425.3" y1="2251.7" x2="425.3" y2="2301.5" stroke="#EE822A" stroke-width="7" stroke-linecap="butt" />
<line x1="417.9" y1="2251.7" x2="432.6" y2="2251.7" stroke="#EE822A" stroke-width="7" stroke-linecap="round" />
<line x1="417.9" y1="2301.5" x2="432.6" y2="2301.5" stroke="#EE822A" stroke-width="7" stroke-linecap="round" />
<polygon points="405.5,2256.7 443.7,2256.7 443.7,2294.9 405.5,2294.9" fill="#EE822A" stroke="#EE822A" stroke-width="0.8" stroke-linejoin="round"/>
<line x1="566.0" y1="2401.9" x2="647.6" y2="2401.9" stroke="#EE822A" stroke-width="7" stroke-linecap="butt" />
<line x1="566.0" y1="2394.6" x2="566.0" y2="2409.2" stroke="#EE822A" stroke-width="7" stroke-linecap="round" />
<line x1="647.6" y1="2394.6" x2="647.6" y2="2409.2" stroke="#EE822A" stroke-width="7" stroke-linecap="round" />
<line x1="606.8" y1="2377.0" x2="606.8" y2="2426.8" stroke="#EE822A" stroke-width="7" stroke-linecap="butt" />
<line x1="599.4" y1="2377.0" x2="614.1" y2="2377.0" stroke="#EE822A" stroke-width="7" stroke-linecap="round" />
<line x1="599.4" y1="2426.8" x2="614.1" y2="2426.8" stroke="#EE822A" stroke-width="7" stroke-linecap="round" />
<polygon points="587.0,2382.0 625.2,2382.0 625.2,2420.2 587.0,2420.2" fill="#EE822A" stroke="#EE822A" stroke-width="0.8" stroke-linejoin="round"/>
<line x1="870.1" y1="2494.1" x2="951.7" y2="2494.1" stroke="#EE822A" stroke-width="7" stroke-linecap="butt" />
<line x1="870.1" y1="2486.8" x2="870.1" y2="2501.4" stroke="#EE822A" stroke-width="7" stroke-linecap="round" />
<line x1="951.7" y1="2486.8" x2="951.7" y2="2501.4" stroke="#EE822A" stroke-width="7" stroke-linecap="round" />
<line x1="910.9" y1="2469.2" x2="910.9" y2="2519.0" stroke="#EE822A" stroke-width="7" stroke-linecap="butt" />
<line x1="903.5" y1="2469.2" x2="918.2" y2="2469.2" stroke="#EE822A" stroke-width="7" stroke-linecap="round" />
<line x1="903.5" y1="2519.0" x2="918.2" y2="2519.0" stroke="#EE822A" stroke-width="7" stroke-linecap="round" />
<polygon points="891.1,2474.2 929.3,2474.2 929.3,2512.4 891.1,2512.4" fill="#EE822A" stroke="#EE822A" stroke-width="0.8" stroke-linejoin="round"/>
<line x1="1113.2" y1="2639.5" x2="1194.8" y2="2639.5" stroke="#EE822A" stroke-width="7" stroke-linecap="butt" />
<line x1="1113.2" y1="2632.2" x2="1113.2" y2="2646.8" stroke="#EE822A" stroke-width="7" stroke-linecap="round" />
<line x1="1194.8" y1="2632.2" x2="1194.8" y2="2646.8" stroke="#EE822A" stroke-width="7" stroke-linecap="round" />
<line x1="1154.0" y1="2614.6" x2="1154.0" y2="2664.4" stroke="#EE822A" stroke-width="7" stroke-linecap="butt" />
<line x1="1146.7" y1="2614.6" x2="1161.3" y2="2614.6" stroke="#EE822A" stroke-width="7" stroke-linecap="round" />
<line x1="1146.7" y1="2664.4" x2="1161.3" y2="2664.4" stroke="#EE822A" stroke-width="7" stroke-linecap="round" />
<polygon points="1134.2,2619.6 1172.4,2619.6 1172.4,2657.8 1134.2,2657.8" fill="#EE822A" stroke="#EE822A" stroke-width="0.8" stroke-linejoin="round"/>
<line x1="261.5" y1="2057.3" x2="261.5" y2="2099.4" stroke="#00A0FE" stroke-width="7" stroke-linecap="butt" />
<line x1="257.5" y1="2057.3" x2="265.5" y2="2057.3" stroke="#00A0FE" stroke-width="7" stroke-linecap="round" />
<line x1="257.5" y1="2099.4" x2="265.5" y2="2099.4" stroke="#00A0FE" stroke-width="7" stroke-linecap="round" />
<circle cx="261.5" cy="2078.4" r="22" fill="#00A0FE"/>
<line x1="424.9" y1="2177.5" x2="424.9" y2="2227.4" stroke="#00A0FE" stroke-width="7" stroke-linecap="butt" />
<line x1="417.4" y1="2177.5" x2="432.4" y2="2177.5" stroke="#00A0FE" stroke-width="7" stroke-linecap="round" />
<line x1="417.4" y1="2227.4" x2="432.4" y2="2227.4" stroke="#00A0FE" stroke-width="7" stroke-linecap="round" />
<circle cx="424.9" cy="2202.0" r="22" fill="#00A0FE"/>
<line x1="606.4" y1="2217.6" x2="606.4" y2="2269.5" stroke="#00A0FE" stroke-width="7" stroke-linecap="butt" />
<line x1="598.9" y1="2217.6" x2="613.9" y2="2217.6" stroke="#00A0FE" stroke-width="7" stroke-linecap="round" />
<line x1="598.9" y1="2269.5" x2="613.9" y2="2269.5" stroke="#00A0FE" stroke-width="7" stroke-linecap="round" />
<circle cx="606.4" cy="2242.6" r="22" fill="#00A0FE"/>
<line x1="910.5" y1="2366.1" x2="910.5" y2="2427.6" stroke="#00A0FE" stroke-width="7" stroke-linecap="butt" />
<line x1="903.0" y1="2366.1" x2="918.0" y2="2366.1" stroke="#00A0FE" stroke-width="7" stroke-linecap="round" />
<line x1="903.0" y1="2427.6" x2="918.0" y2="2427.6" stroke="#00A0FE" stroke-width="7" stroke-linecap="round" />
<circle cx="910.5" cy="2396.9" r="22" fill="#00A0FE"/>
<line x1="1153.6" y1="2569.6" x2="1153.6" y2="2618.0" stroke="#00A0FE" stroke-width="7" stroke-linecap="butt" />
<line x1="1146.1" y1="2569.6" x2="1161.1" y2="2569.6" stroke="#00A0FE" stroke-width="7" stroke-linecap="round" />
<line x1="1146.1" y1="2618.0" x2="1161.1" y2="2618.0" stroke="#00A0FE" stroke-width="7" stroke-linecap="round" />
<circle cx="1153.6" cy="2593.6" r="22" fill="#00A0FE"/>
</g>
<rect x="946.1" y="2033.5" width="143.9" height="68.3" fill="#FCE6D5" stroke="#DCC9BC" stroke-width="1.2"/>
<circle cx="1012.4" cy="2173.7" r="22" fill="#00A0FE"/>
<text x="633.0" y="2077.3" font-size="62" textLength="250.5" lengthAdjust="spacingAndGlyphs">2H-MoTe</text>
<text x="884.5" y="2094.0" font-size="43">2</text>
<text x="1110.0" y="2088.7" font-size="61" font-style="italic">T</text>
<text x="1144.0" y="2106.0" font-size="45">M</text>
<text x="1182.0" y="2057.0" font-size="75" textLength="87.5" lengthAdjust="spacingAndGlyphs">(c)</text>
<text x="1108.3" y="2195.4" font-size="61" font-style="italic">V</text>
<text x="1139.0" y="2212.8" font-size="46">M</text>
<text x="304.5" y="2640.2" font-size="67.5" textLength="735.0" lengthAdjust="spacingAndGlyphs">Long-range magnetic order</text>
<text transform="translate(239.0,2744.5) scale(1,1.035)" font-size="75" text-anchor="end">0</text>
<text transform="translate(1299.0,2744.5) scale(1,1.035)" font-size="75" textLength="95.0" lengthAdjust="spacingAndGlyphs">0.0</text>
<text transform="translate(239.0,2496.5) scale(1,1.035)" font-size="75" text-anchor="end">20</text>
<text transform="translate(1299.0,2496.5) scale(1,1.035)" font-size="75" textLength="95.0" lengthAdjust="spacingAndGlyphs">0.2</text>
<text transform="translate(239.0,2248.5) scale(1,1.035)" font-size="75" text-anchor="end">40</text>
<text transform="translate(1299.0,2248.5) scale(1,1.035)" font-size="75" textLength="95.0" lengthAdjust="spacingAndGlyphs">0.4</text>
<text transform="translate(239.0,2000.5) scale(1,1.035)" font-size="75" text-anchor="end">60</text>
<text transform="translate(1299.0,2000.5) scale(1,1.035)" font-size="75" textLength="95.0" lengthAdjust="spacingAndGlyphs">0.6</text>
<text transform="translate(263.5,2804.0) scale(1,1.035)" font-size="75" text-anchor="middle">0.0</text>
<text transform="translate(466.2,2804.0) scale(1,1.035)" font-size="75" text-anchor="middle">0.5</text>
<text transform="translate(669.0,2804.0) scale(1,1.035)" font-size="75" text-anchor="middle">1.0</text>
<text transform="translate(871.7,2804.0) scale(1,1.035)" font-size="75" text-anchor="middle">1.5</text>
<text transform="translate(1074.5,2804.0) scale(1,1.035)" font-size="75" text-anchor="middle">2.0</text>
<text transform="translate(1273.7,2804.0) scale(1,1.035)" font-size="75" text-anchor="middle">2.5</text>
<text x="538.5" y="2916.1" font-size="75" textLength="459.5" lengthAdjust="spacingAndGlyphs">Pressure (GPa)</text>
<text transform="translate(120.4,2497.3) rotate(-90)" font-size="78" font-style="italic" textLength="39.5" lengthAdjust="spacingAndGlyphs">T</text>
<text transform="translate(141.0,2455.5) rotate(-90)" font-size="52">M</text>
<text transform="translate(88.7,2409.8) rotate(-90)" font-size="50" textLength="80.0" lengthAdjust="spacingAndGlyphs">mid</text>
<text transform="translate(120.4,2309.3) rotate(-90)" font-size="78" textLength="107.5" lengthAdjust="spacingAndGlyphs">(K)</text>
<text transform="translate(1476.2,2837.2) rotate(-90)" font-size="77.5">Precession</text>
<text transform="translate(1476.2,2468.5) rotate(-90)" font-size="77.5" textLength="194.5" lengthAdjust="spacingAndGlyphs">Signal</text>
<text transform="translate(1476.2,2253.0) rotate(-90)" font-size="77.5">Fraction,</text>
<text transform="translate(1476.2,1951.0) rotate(-90)" font-size="77.5" font-style="italic" textLength="39.5" lengthAdjust="spacingAndGlyphs">V</text>
<text transform="translate(1496.7,1911.3) rotate(-90)" font-size="51.5">M</text>
</g>
</svg>
</body></html>
